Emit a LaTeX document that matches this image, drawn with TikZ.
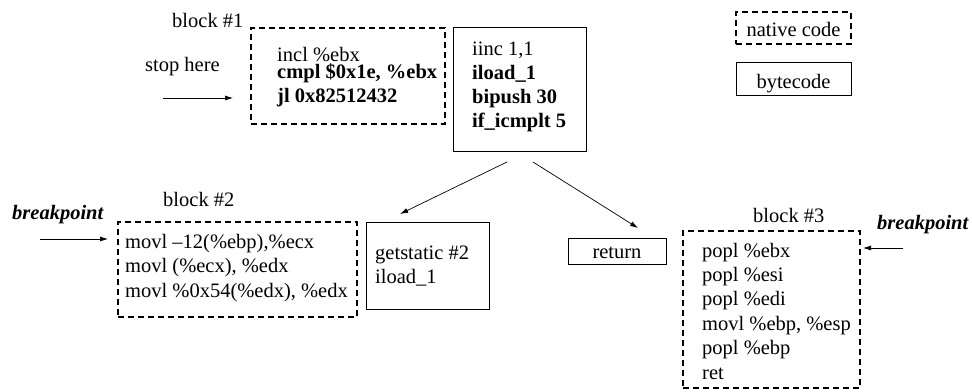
\documentclass[tikz,border=0pt]{standalone}
\usepackage{fontspec}
\setmainfont{Liberation Serif}
\usepackage{tikz}
\usetikzlibrary{arrows.meta,positioning,calc}

\tikzset{
  native/.style={draw, line width=1.2pt, dash pattern=on 6pt off 4pt, inner sep=0pt, outer sep=0pt},
  bytebox/.style={draw, line width=0.9pt, inner sep=0pt, outer sep=0pt},
  txt/.style={font=\fontsize{20.5}{24}\selectfont, inner sep=0pt, anchor=base west},
  arr/.style={-{Latex[length=8pt,width=5pt]}, line width=0.7pt}
}

\begin{document}
\begin{tikzpicture}[x=1pt,y=-1pt]
    \useasboundingbox (0,0) rectangle (972,391);

    % boxes
    \node[native, minimum width=194pt, minimum height=96pt] (blk1) at (348,76) {};
    \node[bytebox, minimum width=133pt, minimum height=124pt] (bc1) at (519.5,89) {};
    \node[native, minimum width=239pt, minimum height=95pt] (blk2) at (237.5,269.5) {};
    \node[bytebox, minimum width=123pt, minimum height=87pt] (bc2) at (427.5,265.5) {};
    \node[bytebox, minimum width=98pt, minimum height=26pt] (ret) at (617,251) {};
    \node[native, minimum width=177pt, minimum height=157pt] (blk3) at (771.5,309.5) {};
    \node[native, minimum width=115pt, minimum height=32pt] (legnative) at (793.5,28) {};
    \node[bytebox, minimum width=115pt, minimum height=33pt] (legbyte) at (793.5,78.5) {};

    % block 1
    \node[txt] (blk1lbl) at (172,27) {block \#1};
    \node[txt] (l11) at (277,61) {incl \%ebx};
    \node[txt] (l12) at (277,78) {\textbf{cmpl \$0x1e, \%ebx}};
    \node[txt] (l13) at (277,102) {\textbf{jl 0x82512432}};

    % bytecode 1
    \node[txt] (b11) at (472,55) {iinc 1,1};
    \node[txt] (b12) at (472,79) {\textbf{iload\_1}};
    \node[txt] (b13) at (472,103) {\textbf{bipush 30}};
    \node[txt] (b14) at (472,127) {\textbf{if\_icmplt 5}};

    % block 2
    \node[txt] (blk2lbl) at (163,206) {block \#2};
    \node[txt] (l21) at (125,248) {movl --12(\%ebp),\%ecx};
    \node[txt] (l22) at (125,272) {movl (\%ecx), \%edx};
    \node[txt] (l23) at (125,297) {movl \%0x54(\%edx), \%edx};

    % bytecode 2
    \node[txt] (b21) at (375,259) {getstatic \#2};
    \node[txt] (b22) at (375,283) {iload\_1};

    \node[txt, anchor=base] (rettxt) at (617,258) {return};

    % block 3
    \node[txt] (blk3lbl) at (753,222) {block \#3};
    \foreach \ins [count=\i from 0] in {popl \%ebx, popl \%esi, popl \%edi, movl \%ebp{,} \%esp, popl \%ebp, ret}
      \node[txt] (l3\i) at (702,257+24.4*\i) {\ins};

    % legend
    \node[txt, anchor=base] (legnt) at (793.5,36) {native code};
    \node[txt, anchor=base] (legbt) at (793.5,88) {bytecode};

    % arrows
    \node[txt] (stoptxt) at (145,71) {stop here};
    \coordinate (stopfrom) at (163,98);
    \draw[arr] (stopfrom) -- ([xshift=-18pt,yshift=-22pt]blk1.west);

    \node[txt] (bpl) at (12,219) {\textbf{\textit{breakpoint}}};
    \coordinate (bplfrom) at (40,239);
    \draw[arr] (bplfrom) -- ([xshift=-10pt,yshift=30.5pt]blk2.west);

    \node[txt] (bpr) at (877,229) {\textbf{\textit{breakpoint}}};
    \coordinate (bprfrom) at (903,248);
    \draw[arr] (bprfrom) -- ([xshift=3pt,yshift=61.5pt]blk3.east);

    \draw[arr] ([xshift=-12.5pt,yshift=-11pt]bc1.south) -- ([xshift=-27.5pt,yshift=8pt]bc2.north);
    \draw[arr] ([xshift=13.5pt,yshift=-11pt]bc1.south) -- ([xshift=21pt,yshift=10pt]ret.north);
\end{tikzpicture}
\end{document}
